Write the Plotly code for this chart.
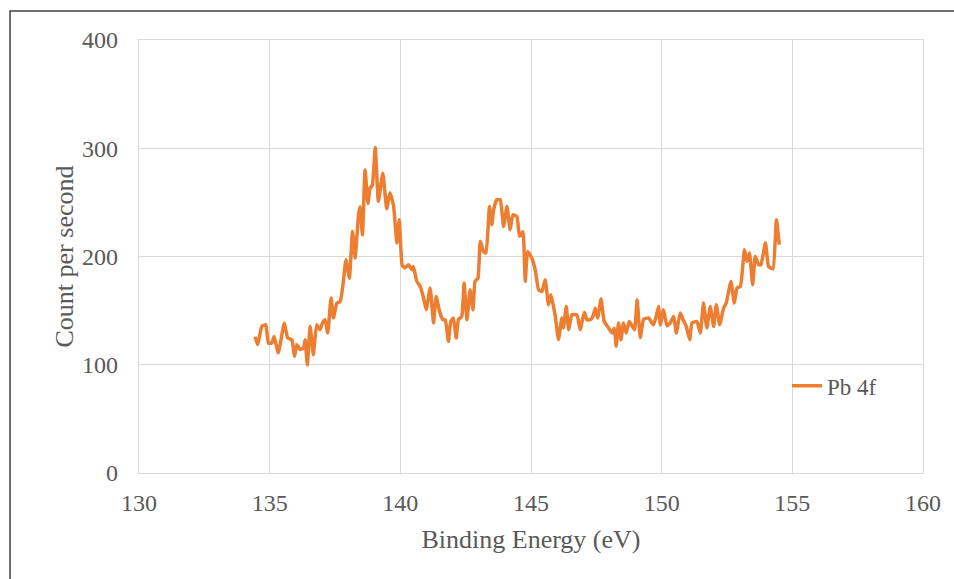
import plotly.graph_objects as go

binding_energy = [
    134.44, 134.54, 134.70, 134.85, 134.95, 135.08, 135.17, 135.33, 135.56, 135.69,
    135.85, 135.95, 136.04, 136.16, 136.29, 136.36, 136.44, 136.55, 136.67, 136.80,
    136.93, 137.02, 137.12, 137.22, 137.35, 137.44, 137.57, 137.70, 137.82, 137.92,
    138.05, 138.17, 138.27, 138.40, 138.46, 138.55, 138.65, 138.76, 138.84, 138.93,
    139.04, 139.16, 139.33, 139.48, 139.60, 139.74, 139.87, 139.96, 140.07, 140.18,
    140.31, 140.44, 140.50, 140.63, 140.76, 140.89, 140.99, 141.14, 141.27, 141.37,
    141.50, 141.63, 141.72, 141.84, 141.93, 142.03, 142.14, 142.22, 142.35, 142.44,
    142.55, 142.67, 142.78, 142.86, 142.97, 143.06, 143.18, 143.28, 143.41, 143.50,
    143.57, 143.69, 143.82, 143.95, 144.08, 144.20, 144.31, 144.46, 144.56, 144.69,
    144.78, 144.87, 145.03, 145.16, 145.29, 145.42, 145.54, 145.67, 145.76, 145.93,
    146.05, 146.18, 146.24, 146.35, 146.44, 146.57, 146.76, 146.88, 147.04, 147.14,
    147.27, 147.37, 147.46, 147.55, 147.68, 147.80, 147.97, 148.10, 148.19, 148.26,
    148.35, 148.44, 148.54, 148.64, 148.76, 148.96, 149.06, 149.18, 149.31, 149.50,
    149.63, 149.69, 149.79, 149.88, 149.95, 150.07, 150.20, 150.33, 150.46, 150.56,
    150.71, 150.82, 150.94, 151.07, 151.16, 151.35, 151.48, 151.60, 151.73, 151.86,
    151.99, 152.09, 152.22, 152.37, 152.47, 152.65, 152.78, 152.88, 153.01, 153.17,
    153.26, 153.36, 153.48, 153.58, 153.71, 153.80, 153.97, 154.09, 154.26, 154.39,
    154.50,
]

counts_per_second = [
    126, 118.5, 135.4, 137, 120, 120, 126, 111, 138.6, 124.7,
    123, 107.7, 118.5, 114, 115.5, 123, 100, 135.4, 109.3, 137,
    132.4, 138.6, 141.6, 129.3, 161.7, 143.2, 157, 158.5, 177, 197,
    180, 223, 198.6, 238.6, 246, 220, 280, 249, 263, 266,
    300.8, 251, 277, 244, 259, 247, 212.5, 234, 192, 189.4,
    192.4, 187.8, 190.8, 177, 172.4, 161.7, 150.9, 170.9, 138.6, 163.1,
    149.3, 141.6, 141.6, 121.6, 140, 143.2, 124.7, 141.6, 144.7, 175.5,
    141.6, 169.3, 150.9, 177, 180, 214, 204.7, 203.2, 246.3, 229.4,
    243.2, 252.5, 252.5, 227.8, 246.3, 224.8, 238.6, 237, 218.6, 223,
    177, 204.7, 198.6, 187.8, 169.3, 167.7, 178.6, 155.5, 164.7, 144.7,
    123.1, 143.2, 134, 153.9, 132.4, 146.2, 146.2, 132.4, 148.4, 141.6,
    141.6, 144.7, 152.4, 143.2, 160.7, 140, 134, 129.3, 134, 117,
    138.6, 123.1, 138.6, 129.3, 140, 132.4, 160, 125, 142, 143.2,
    138.6, 137, 144.7, 153.9, 137, 150.9, 136, 138.6, 144.7, 129.3,
    147.8, 141.6, 135.4, 123.1, 138.6, 140, 129.3, 157, 134, 153.9,
    135.4, 155.5, 137, 152.4, 157, 177, 157, 170.9, 172.4, 206.3,
    195.5, 203.2, 174, 200, 192.4, 192.4, 212.5, 190.8, 188.5, 234,
    211,
]

series_name = "Pb 4f"
x_title = "Binding Energy (eV)"
y_title = "Count per second"
x_ticks = [130, 135, 140, 145, 150, 155, 160]
y_ticks = [0, 100, 200, 300, 400]

FONT = "Liberation Serif, Times New Roman, serif"
TXT = "#595959"
GRID = "#D9D9D9"

fig = go.Figure()
fig.add_trace(go.Scatter(
    x=binding_energy, y=counts_per_second, mode="lines", name=series_name,
    line=dict(color="#ED7D31", width=3.5, shape="spline", smoothing=0.4),
))

fig.update_layout(
    width=954, height=579,
    margin=dict(l=139, r=31, t=40, b=106),
    paper_bgcolor="white", plot_bgcolor="white",
    font=dict(family=FONT, color=TXT, size=24),
    showlegend=True,
    legend=dict(x=0.8265, y=0.2015, xanchor="left", yanchor="middle",
                bgcolor="rgba(0,0,0,0)", font=dict(family=FONT, size=23, color=TXT)),
    xaxis=dict(range=[130, 160], tickvals=x_ticks, showgrid=True, gridcolor=GRID,
               gridwidth=1.3, zeroline=False, showline=True, mirror=True,
               linecolor=GRID, linewidth=1.3, ticks="", ticklabelstandoff=8,
               tickfont=dict(family=FONT, size=24, color=TXT),
               title=dict(text=x_title, font=dict(family=FONT, size=26, color=TXT), standoff=14)),
    yaxis=dict(range=[0, 400], tickvals=y_ticks, showgrid=True, gridcolor=GRID,
               gridwidth=1.3, zeroline=False, showline=True, mirror=True,
               linecolor=GRID, linewidth=1.3, ticks="", ticklabelstandoff=15,
               tickfont=dict(family=FONT, size=24, color=TXT),
               title=dict(text=y_title, font=dict(family=FONT, size=26, color=TXT), standoff=0)),
    shapes=[dict(type="rect", xref="paper", yref="paper",
                 x0=-0.1645, x1=1.1, y0=-0.4, y1=1.067,
                 line=dict(color="#404040", width=1.5), fillcolor="rgba(0,0,0,0)", layer="below")],
)

fig.write_html("out.html")
